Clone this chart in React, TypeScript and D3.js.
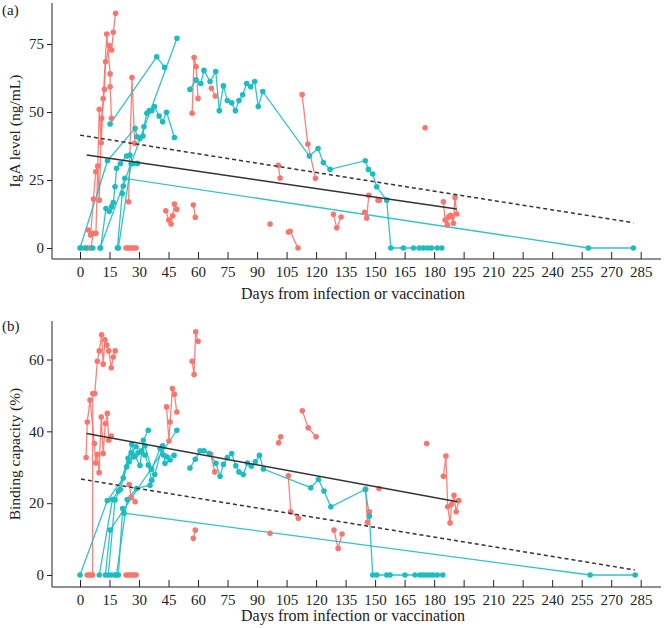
import React, { useEffect, useRef } from 'react';
import * as d3 from 'd3';

type Pt = [number, number];

const xTicks = [0, 15, 30, 45, 60, 75, 90, 105, 120, 135, 150, 165, 180, 195, 210, 225, 240, 255, 270, 285];
const igaTicks = [0, 25, 50, 75];
const bindTicks = [0, 20, 40, 60];

// IgA level, red group (one array per subject)
const igaRed: Pt[][] = [
  [[4.2, 6.6], [5.4, 4.8], [6.8, 18], [8, 28], [9, 30.1], [9.8, 17.6], [11, 47.7], [12.4, 58.3], [13, 68.5], [14.9, 74.4], [16.1, 72.8], [16.9, 79.3], [18.1, 86.3]],
  [[2.5, 0], [4, 0], [5.5, 0], [6.8, 5.4], [8.1, 5.4], [9.8, 51], [10.8, 38.7], [11.8, 54.9], [13.6, 78.7], [15.3, 64], [15.3, 59.3], [16, 47.7]],
  [[23.4, 0], [24.4, 0], [25.4, 0], [26.4, 0], [27.5, 0], [28.5, 0]],
  [[24.7, 17], [26.4, 62.7], [27.8, 38.5]],
  [[43.6, 13.7], [45.1, 10.3], [46.3, 8.8], [47.1, 11.8], [48, 16.2], [49.2, 14.2]],
  [[57.6, 15.8], [58.6, 11.3]],
  [[57, 49.5], [58, 70], [59, 66.7], [60, 55]],
  [[66.8, 58.7], [68.8, 55.9]],
  [[96.6, 8.8]],
  [[106, 5.9], [106.8, 6.1], [110.8, 0]],
  [[100.8, 30.4], [101.7, 25.7]],
  [[112.9, 56.4], [115.8, 38.2], [119.7, 25.6]],
  [[128.8, 12.4], [130.5, 7.4], [132.7, 11.4]],
  [[144.7, 13.1], [145.7, 11], [146.8, 19.4]],
  [[151.5, 17.6], [152.2, 17.6]],
  [[175.4, 44.2]],
  [[184.7, 17], [185.6, 10.3], [186.7, 8.5], [187.4, 11.5], [188.4, 12], [189.1, 11.5], [189.8, 9.1], [190.6, 18.6], [191.5, 12.5]],
];

// IgA level, teal group
const igaTeal: Pt[][] = [
  [[15.3, 45.6], [39, 70.3], [43, 66.4]],
  [[10.2, 0], [49.3, 77.1]],
  [[0, 0], [14, 32.1], [28, 44], [29, 40.9], [30.5, 40.3], [32, 41.2], [32.5, 44.6], [34, 49.5], [35.2, 50.5], [36.5, 50.5], [37.8, 52], [40.2, 48.5], [42, 46.4], [44, 49.9], [48, 40.6]],
  [[10.5, 0], [13.2, 14.5], [14.9, 13.5], [16.1, 15.2], [16.9, 16.7], [17.8, 22.5], [18.6, 29.3], [20.5, 31], [23.7, 33.8], [25.4, 34.2], [27, 31]],
  [[19, 0], [21.5, 20], [22, 22.8], [22.8, 25.6], [258.4, 0], [281.3, 0]],
  [[0.5, 0], [3, 0], [6.5, 0]],
  [[19.5, 0], [26, 31], [29.2, 31.1]],
  [[55.9, 58.3], [59, 61.8], [61.4, 60.5], [63, 65.3], [66.1, 61.2], [69, 64.9], [70.8, 50.5], [72.9, 59.6], [74.9, 54.2], [77.1, 53.4], [79, 50.5], [80.8, 54.2], [82.7, 56.3], [84.7, 60.5], [86.8, 59.3], [88.8, 61.2], [90.6, 52], [92.9, 57.5], [116.6, 33.8], [121, 36.6], [123.7, 31.4], [127.1, 28.9], [145, 32.1], [146.6, 28.9], [148.8, 27.2], [150.8, 22.5], [155.9, 17.6], [158, 0], [164.4, 0], [169.5, 0], [172.5, 0], [174.5, 0], [176.6, 0], [178.6, 0], [181.6, 0], [183.9, 0]],
];

// Binding capacity, red group
const bindRed: Pt[][] = [
  [[3.1, 32.7], [3.7, 42.6], [5.1, 48.7], [7.3, 36.6], [8, 31.2], [8.8, 33.6], [9.7, 28.5], [10.8, 44], [11.8, 33.8], [12.9, 42.2], [13.9, 45], [14.6, 37.5], [15.9, 38.7]],
  [[3.7, 0], [4.8, 0], [5.9, 0], [6.4, 0], [6.5, 50.5], [7.5, 50.5], [8.8, 59.5], [9.8, 62.4], [11, 66.9], [11.8, 58.7], [12.7, 65.5], [13.6, 64], [14.6, 62.4], [15.9, 57.7], [16.9, 60.7], [17.9, 62.4]],
  [[23.4, 0], [24.4, 0], [25.4, 0], [26.4, 0], [27.5, 0], [28.5, 0]],
  [[25, 25.2], [26, 21.6], [28, 20.4]],
  [[44, 46.8], [45.2, 37.3], [45.8, 42.6], [47, 51.9], [48, 50.3], [49.2, 45.4]],
  [[57, 59.5], [58, 55.8], [58.8, 67.7], [60, 65.1]],
  [[57.6, 10.2], [58.6, 12.5]],
  [[66.4, 33.6], [68.5, 28.7]],
  [[96.6, 11.6]],
  [[101, 36.8], [102, 38.5]],
  [[105.9, 27.6], [107.1, 17.6], [111, 15.8]],
  [[113, 45.7], [116, 41], [120, 38.5]],
  [[129.1, 12.5], [131.2, 7.4], [133.2, 11.4]],
  [[145.2, 23.9], [146.1, 14.7], [147.1, 17.6]],
  [[152, 24.1]],
  [[176.2, 36.6]],
  [[184.7, 27.5], [186, 33.1], [186.9, 19], [188.1, 14.5], [188.9, 19.7], [190.1, 22.2], [191.2, 17.6], [192.5, 20.7]],
];

// Binding capacity, teal group
const bindTeal: Pt[][] = [
  [[0, 0], [13.9, 20.7], [22, 27], [26.3, 36.4], [28, 33], [30.5, 30.5], [32.2, 37.5], [34.7, 40.3]],
  [[9.8, 0], [16.5, 21], [19.5, 23.4], [24.4, 32.5], [26, 34], [28.5, 35.7], [31.4, 34.6], [33, 36], [36.4, 29.4], [40.7, 35.2], [42.4, 33.4], [44.1, 32.9], [47.8, 33.3]],
  [[12.9, 0], [15.3, 12.5], [49.2, 40.3]],
  [[14.4, 0], [17.8, 20.9], [20.5, 23.8], [23.7, 30.1], [25, 31.5], [27.1, 32.9], [29.5, 34], [33, 33.4], [34.7, 30.6], [36.4, 26.4], [38, 28], [42, 36], [43.2, 31.1], [45.8, 32]],
  [[16.1, 0], [17.8, 0], [19.5, 0], [21.7, 18.5], [22.4, 17.2], [259.3, 0], [282.2, 0]],
  [[18.5, 0], [24, 21], [28.8, 24.1], [35.6, 25], [36.4, 26.4]],
  [[55.9, 29.8], [58.6, 32.2], [61, 34.6], [63, 34.6], [65.7, 33.8], [69.1, 31.1], [71.2, 27.5], [72.9, 30.8], [74.9, 32.7], [77.1, 33.8], [79.2, 30.4], [80.8, 28.7], [83, 28], [85.1, 31.2], [87.1, 30.3], [89.1, 31.5], [91.2, 33.3], [93.2, 29.5], [117.3, 24.3], [121.2, 26.6], [124, 23.4], [127.5, 19], [145, 23.8], [147.1, 16.4], [148.8, 0], [150.8, 0], [155.9, 0], [157.6, 0], [165.2, 0], [170.3, 0], [172.9, 0], [174.5, 0], [176.2, 0], [177.9, 0], [179.6, 0], [181.6, 0], [184.4, 0]],
];

// fitted trend lines
const igaFitSolid: Pt[] = [[3.4, 34.2], [191.5, 14.3]];
const igaFitDashed: Pt[] = [[0, 41.5], [281.3, 9.3]];
const bindFitSolid: Pt[] = [[3.4, 39.4], [191.8, 20.4]];
const bindFitDashed: Pt[] = [[0.5, 26.7], [282, 1.4]];

const RED = '#F8766D';
const TEAL = '#1CBDC2';
const FONT = '"Liberation Serif", "Times New Roman", serif';

const drawPanel = (svg, x, opts) => {
  const { y, top, bottom, ticks, red, teal, fitSolid, fitDashed, yTitle, tag, tagY, titleY } = opts;
  const g = svg.append('g');
  const line = d3.line<Pt>().x((d) => x(d[0])).y((d) => y(d[1]));

  // axis lines
  g.append('line').attr('x1', 52).attr('x2', 52).attr('y1', top).attr('y2', bottom).attr('stroke', '#222');
  g.append('line').attr('x1', 52).attr('x2', 661).attr('y1', bottom).attr('y2', bottom).attr('stroke', '#222');

  const yAxis = d3.axisLeft(y).tickValues(ticks).tickSizeInner(5).tickSizeOuter(0).tickPadding(3);
  g.append('g')
    .attr('transform', 'translate(52,0)')
    .call(yAxis)
    .call((a) => a.select('.domain').remove())
    .attr('font-family', FONT)
    .attr('font-size', 15)
    .call((a) => a.selectAll('line').attr('stroke', '#222'))
    .call((a) => a.selectAll('text').attr('fill', '#222'));

  const xAxis = d3.axisBottom(x).tickValues(xTicks).tickSizeInner(-7).tickSizeOuter(0).tickPadding(7);
  g.append('g')
    .attr('transform', `translate(0,${bottom})`)
    .call(xAxis)
    .call((a) => a.select('.domain').remove())
    .attr('font-family', FONT)
    .attr('font-size', 15)
    .call((a) => a.selectAll('line').attr('stroke', '#222'))
    .call((a) => a.selectAll('text').attr('fill', '#222'));

  // subject trajectories
  const groups = [
    { data: red, color: RED },
    { data: teal, color: TEAL },
  ];
  groups.forEach(({ data, color }) => {
    g.append('g')
      .selectAll('path')
      .data(data)
      .join('path')
      .attr('d', (d) => line(d))
      .attr('fill', 'none')
      .attr('stroke', color)
      .attr('stroke-width', 1.3)
      .attr('stroke-opacity', 0.9);
  });
  groups.forEach(({ data, color }) => {
    g.append('g')
      .selectAll('circle')
      .data(data.flat())
      .join('circle')
      .attr('cx', (d) => x(d[0]))
      .attr('cy', (d) => y(d[1]))
      .attr('r', 2.8)
      .attr('fill', color);
  });

  g.append('path').attr('d', line(fitSolid)).attr('fill', 'none').attr('stroke', '#333').attr('stroke-width', 1.5);
  g.append('path')
    .attr('d', line(fitDashed))
    .attr('fill', 'none')
    .attr('stroke', '#333')
    .attr('stroke-width', 1.5)
    .attr('stroke-dasharray', '4,3');

  g.append('text')
    .attr('x', 353)
    .attr('y', titleY)
    .attr('text-anchor', 'middle')
    .attr('font-family', FONT)
    .attr('font-size', 16)
    .attr('fill', '#222')
    .text('Days from infection or vaccination');

  g.append('text')
    .attr('transform', `translate(20,${(top + bottom) / 2}) rotate(-90)`)
    .attr('text-anchor', 'middle')
    .attr('font-family', FONT)
    .attr('font-size', 15.5)
    .attr('fill', '#222')
    .text(yTitle);

  g.append('text')
    .attr('x', 2)
    .attr('y', tagY)
    .attr('font-family', FONT)
    .attr('font-size', 15)
    .attr('fill', '#222')
    .text(tag);
};

export default function App() {
  const svgRef = useRef<SVGSVGElement>(null);

  useEffect(() => {
    const svg = d3.select(svgRef.current);
    svg.selectAll('*').remove();
    const x = d3.scaleLinear().domain([0, 285]).range([80, 640.7]);

    drawPanel(svg, x, {
      y: d3.scaleLinear().domain([0, 75]).range([248, 44]),
      top: 3,
      bottom: 259,
      ticks: igaTicks,
      red: igaRed,
      teal: igaTeal,
      fitSolid: igaFitSolid,
      fitDashed: igaFitDashed,
      yTitle: 'IgA level (ng/mL)',
      tag: '(a)',
      tagY: 15,
      titleY: 299,
    });

    drawPanel(svg, x, {
      y: d3.scaleLinear().domain([0, 60]).range([575, 359.5]),
      top: 321,
      bottom: 587,
      ticks: bindTicks,
      red: bindRed,
      teal: bindTeal,
      fitSolid: bindFitSolid,
      fitDashed: bindFitDashed,
      yTitle: 'Binding capacity (%)',
      tag: '(b)',
      tagY: 331,
      titleY: 621,
    });
  }, []);

  return (
    <svg
      ref={svgRef}
      width={664}
      height={628}
      style={{ position: 'absolute', left: 0, top: 0, background: '#fff' }}
    />
  );
}
